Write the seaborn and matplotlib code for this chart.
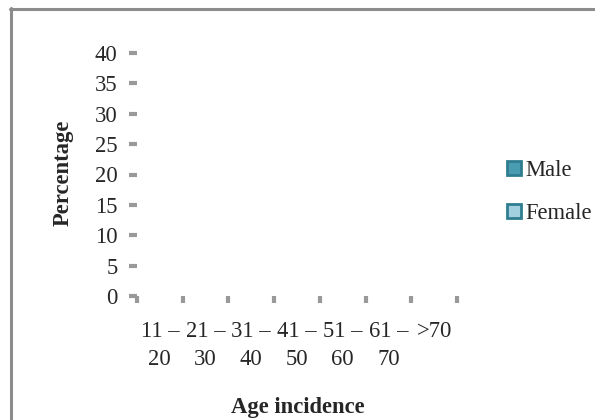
import matplotlib
matplotlib.use("Agg")
import matplotlib.pyplot as plt
from matplotlib.lines import Line2D
import seaborn as sns
import pandas as pd

# Data (no bars are visible in the reference: all values read as 0)
age_groups = ["11 –\n20", "21 –\n30", "31 –\n40", "41 –\n50", "51 –\n60", "61 –\n70", ">70"]
male = [0, 0, 0, 0, 0, 0, 0]
female = [0, 0, 0, 0, 0, 0, 0]
series_names = ["Male", "Female"]
y_ticks = [0, 5, 10, 15, 20, 25, 30, 35, 40]

male_color = "#4A9DB0"
female_color = "#A3D0DE"
edge_color = "#2F7D90"

df = pd.DataFrame({
    "Age": age_groups * 2,
    "Value": male + female,
    "Sex": [series_names[0]] * len(age_groups) + [series_names[1]] * len(age_groups),
})

sns.set_style("white")
plt.rcParams["font.family"] = ["Liberation Serif", "DejaVu Serif"]

fs = 16.3

fig = plt.figure(figsize=(5.95, 4.2), dpi=100)
ax = fig.add_axes([137/595, 1 - 296/420, (457 - 137)/595, (296 - 53)/420])

sns.barplot(data=df, x="Age", y="Value", hue="Sex", order=age_groups,
            hue_order=series_names, palette=[male_color, female_color],
            linewidth=0, ax=ax, legend=False, errorbar=None)

ax.set_xlim(-0.5, len(age_groups) - 0.5)
ax.set_ylim(0, 40)
ax.set_yticks(y_ticks)
ax.set_yticklabels([str(t) for t in y_ticks], fontsize=fs)

for s in ax.spines.values():
    s.set_visible(False)

tick_gray = "#999999"
ax.tick_params(axis="y", which="major", left=True, length=6, width=3,
               color=tick_gray, pad=8, direction="out")
ax.set_xticks(range(len(age_groups)))
ax.set_xticklabels(age_groups, fontsize=fs, linespacing=1.45)
ax.tick_params(axis="x", which="major", bottom=False, length=0, pad=18)
ax.set_xticks([i - 0.5 for i in range(len(age_groups) + 1)], minor=True)
ax.tick_params(axis="x", which="minor", bottom=True, length=5, width=3,
               color=tick_gray, direction="out")

ax.set_xlabel("")
ax.set_ylabel("")
fig.text(298/595, 1 - 407/420, "Age incidence", ha="center", va="center",
         fontsize=fs, fontweight="bold")
fig.text(63/595, 1 - 173/420, "Percentage", ha="center", va="center",
         rotation=90, fontsize=fs, fontweight="bold")

handles = [
    Line2D([], [], linestyle="none", marker="s", markersize=9.5,
           markerfacecolor=male_color, markeredgecolor=edge_color, markeredgewidth=2),
    Line2D([], [], linestyle="none", marker="s", markersize=9.5,
           markerfacecolor=female_color, markeredgecolor=edge_color, markeredgewidth=2),
]
fig.legend(handles, series_names, loc="center left",
           bbox_to_anchor=(496/595, 1 - 192/420), frameon=False,
           fontsize=fs, handlelength=0.6, handletextpad=0.2,
           labelspacing=1.0, borderpad=0)

# outer frame (left and top edges visible)
frame_gray = "#8C8C8C"
fig.add_artist(Line2D([11/595, 11/595], [0, 1 - 8/420], color=frame_gray,
                      linewidth=2.2, transform=fig.transFigure))
fig.add_artist(Line2D([10/595, 1], [1 - 8.5/420, 1 - 8.5/420], color=frame_gray,
                      linewidth=2.2, transform=fig.transFigure))

fig.savefig("out.png", dpi=100)
